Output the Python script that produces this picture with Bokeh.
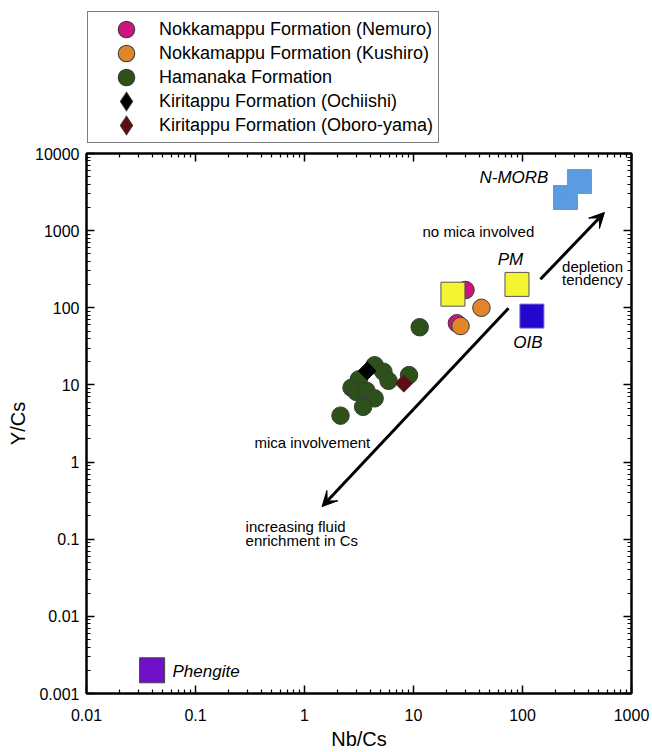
import math
from bokeh.plotting import figure
from bokeh.layouts import column
from bokeh.models import (LogAxis, FixedTicker, Legend, LegendItem, Label, Arrow,
                          VeeHead, Range1d)
from bokeh.embed import file_html
from bokeh.resources import INLINE

FONT = "Liberation Sans"

# ---------------- data ----------------
nemuro_x = [30, 25]
nemuro_y = [170, 63]

kushiro_x = [42, 27]
kushiro_y = [100, 58]

hamanaka_x = [11.4, 4.4, 5.3, 5.9, 9.1, 3.15, 2.7, 3.0, 3.7, 4.4, 3.45, 2.14]
hamanaka_y = [56, 18, 14.8, 11.3, 13.4, 11.8, 9.2, 8.1, 8.4, 6.7, 5.2, 4.0]

ochiishi_x = [3.76]
ochiishi_y = [15.2]

oboro_x = [8.15]
oboro_y = [10.5]

# reference compositions
pm_x = [23, 89]
pm_y = [150, 201]
nmorb_x = [248, 333]
nmorb_y = [2690, 4330]
oib_x = [122]
oib_y = [78]
phengite_x = [0.04]
phengite_y = [0.002]

x_ticks = [0.01, 0.1, 1, 10, 100, 1000]
x_tick_labels = ["0.01", "0.1", "1", "10", "100", "1000"]
y_ticks = [0.001, 0.01, 0.1, 1, 10, 100, 1000, 10000]
y_tick_labels = ["0.001", "0.01", "0.1", "1", "10", "100", "1000", "10000"]

legend_labels = ["Nokkamappu Formation (Nemuro)", "Nokkamappu Formation (Kushiro)",
                 "Hamanaka Formation", "Kiritappu Formation (Ochiishi)",
                 "Kiritappu Formation (Oboro-yama)"]

# colours
C_NEM = "#cc1480"
C_KUS = "#e0852a"
C_HAM = "#2c5219"
C_OCH = "#000000"
C_OBO = "#5c0e10"
OUT = "#3a3a3a"

TOP_H = 147

# ---------------- main figure ----------------
p = figure(width=652, height=752 - TOP_H, x_axis_type="log", y_axis_type="log",
           x_range=(0.01, 1000), y_range=(0.001, 10000),
           output_backend="svg", toolbar_location=None,
           min_border_left=86, min_border_right=21, min_border_top=6,
           min_border_bottom=58)
p.grid.visible = False
p.outline_line_color = "black"
p.outline_line_width = 2
p.background_fill_color = "white"
p.border_fill_color = "white"


def minor_of(ticks):
    out = []
    for t in ticks[:-1]:
        for m in range(2, 10):
            out.append(round(t * m, 6))
    return out


def style_axis(ax, ticks, labels, show_labels):
    ax.ticker = FixedTicker(ticks=ticks, minor_ticks=minor_of(ticks))
    ax.major_tick_in = 8
    ax.major_tick_out = 0
    ax.minor_tick_in = 4
    ax.minor_tick_out = 0
    ax.axis_line_width = 2
    ax.axis_line_color = "black"
    ax.major_tick_line_width = 1.5
    ax.minor_tick_line_width = 1.2
    ax.major_tick_line_color = "black"
    ax.minor_tick_line_color = "black"
    ax.major_label_overrides = dict(zip(ticks, labels))
    if show_labels:
        ax.major_label_text_font = FONT
        ax.major_label_text_font_size = "16px"
        ax.major_label_text_color = "black"
        ax.axis_label_text_font = FONT
        ax.axis_label_text_font_size = "20px"
        ax.axis_label_text_font_style = "normal"
        ax.axis_label_text_color = "black"
    else:
        ax.major_label_text_font_size = "1px"
        ax.major_label_text_alpha = 0
        ax.major_label_standoff = 0


xa = p.xaxis[0]
ya = p.yaxis[0]
style_axis(xa, x_ticks, x_tick_labels, True)
style_axis(ya, y_ticks, y_tick_labels, True)
xa.axis_label = "Nb/Cs"
ya.axis_label = "Y/Cs"
xa.major_label_standoff = 15
xa.axis_label_standoff = 4
ya.major_label_standoff = 7
ya.axis_label_standoff = 3

top_ax = LogAxis()
style_axis(top_ax, x_ticks, x_tick_labels, False)
p.add_layout(top_ax, "above")
right_ax = LogAxis()
style_axis(right_ax, y_ticks, y_tick_labels, False)
p.add_layout(right_ax, "right")

# ---------------- glyphs ----------------
p.scatter(nemuro_x, nemuro_y, marker="circle", size=17.5,
          fill_color=C_NEM, line_color=OUT, line_width=1)
p.scatter(kushiro_x, kushiro_y, marker="circle", size=17.5,
          fill_color=C_KUS, line_color=OUT, line_width=1)
p.scatter(hamanaka_x, hamanaka_y, marker="circle", size=17.5,
          fill_color=C_HAM, line_color=OUT, line_width=1)
p.scatter(ochiishi_x, ochiishi_y, marker="square", size=12.5, angle=math.pi / 4,
          fill_color=C_OCH, line_color="black", line_width=1)
p.scatter(oboro_x, oboro_y, marker="square", size=12.5, angle=math.pi / 4,
          fill_color=C_OBO, line_color=OUT, line_width=1)

p.scatter(pm_x, pm_y, marker="square", size=24, fill_color="#f4f432",
          line_color="#555555", line_width=1)
p.scatter(nmorb_x, nmorb_y, marker="square", size=24, fill_color="#5b9be0",
          line_color="#5b9be0", line_width=1)
p.scatter(oib_x, oib_y, marker="square", size=24, fill_color="#2406cc",
          line_color="#6a6ad8", line_width=1)
p.scatter(phengite_x, phengite_y, marker="square", size=25, fill_color="#7010c8",
          line_color="#444444", line_width=1)

# ---------------- arrows ----------------
p.add_layout(Arrow(end=VeeHead(size=15, fill_color="black", line_color="black"),
                   x_start=146, y_start=234, x_end=565, y_end=1720,
                   line_width=3, line_color="black"))
p.add_layout(Arrow(end=VeeHead(size=15, fill_color="black", line_color="black"),
                   x_start=74.4, y_start=98.5, x_end=1.45, y_end=0.265,
                   line_width=3, line_color="black"))


# ---------------- text annotations ----------------
def lab(x, y, text, size="15px", style="normal", align="left"):
    p.add_layout(Label(x=x, y=y, text=text, text_font=FONT, text_font_size=size,
                       text_font_style=style, text_align=align,
                       text_baseline="middle", text_color="black"))


lab(173, 4877, "N-MORB", "17px", "italic", "right")
lab(12.1, 977, "no mica involved", "15px")
lab(77.6, 424, "PM", "17px", "italic", "center")
lab(439, 339, "depletion", "15px", "normal", "center")
lab(439, 230, "tendency", "15px", "normal", "center")
lab(112, 35.8, "OIB", "17px", "italic", "center")
lab(1.18, 1.77, "mica involvement", "15px", "normal", "center")
lab(0.288, 0.1445, "increasing  fluid", "15px")
lab(0.288, 0.0953, "enrichment in Cs", "15px")
lab(0.0615, 0.00193, "Phengite", "17px", "italic", "left")

# ---------------- legend strip (separate figure above the plot) ----------------
# Its ranges are chosen so that the series' own points fall outside the strip;
# only the legend (which needs renderers with data) is visible there.
lg = figure(width=652, height=TOP_H, x_axis_type=None, y_axis_type=None,
            x_range=Range1d(0, 1), y_range=Range1d(0, 1),
            output_backend="svg", toolbar_location=None,
            min_border_left=0, min_border_right=0, min_border_top=0,
            min_border_bottom=0)
lg.grid.visible = False
lg.outline_line_color = None
lg.background_fill_color = "white"
lg.border_fill_color = "white"


# legend glyphs: a dark ring under a coloured ring gives a large marker with a thin outline
def legend_glyphs(xs, ys, marker, color, outer_w, inner_w):
    a = lg.scatter(xs, ys, marker=marker, size=10, fill_color=color,
                   line_color=OUT, line_width=outer_w, line_join="miter")
    b = lg.scatter(xs, ys, marker=marker, size=10, fill_color=color,
                   line_color=color, line_width=inner_w, line_join="miter")
    return [a, b]


leg_r = [legend_glyphs(nemuro_x, nemuro_y, "circle", C_NEM, 8, 6),
         legend_glyphs(kushiro_x, kushiro_y, "circle", C_KUS, 8, 6),
         legend_glyphs(hamanaka_x, hamanaka_y, "circle", C_HAM, 8, 6),
         legend_glyphs(ochiishi_x, ochiishi_y, "diamond", C_OCH, 6, 4),
         legend_glyphs(oboro_x, oboro_y, "diamond", C_OBO, 6, 4)]

legend = Legend(items=[LegendItem(label=lbl, renderers=rs, index=0)
                       for lbl, rs in zip(legend_labels, leg_r)],
                location=(1, 4), padding=5, spacing=0, glyph_height=24,
                glyph_width=66, label_standoff=0, label_width=250,
                label_height=24, margin=0,
                border_line_color="black", border_line_width=1.5,
                background_fill_color="white", background_fill_alpha=1,
                label_text_font=FONT, label_text_font_size="18px",
                label_text_color="black")
lg.add_layout(legend, "center")

layout = column(lg, p, spacing=0)
open("out.html", "w").write(file_html(layout, INLINE))
